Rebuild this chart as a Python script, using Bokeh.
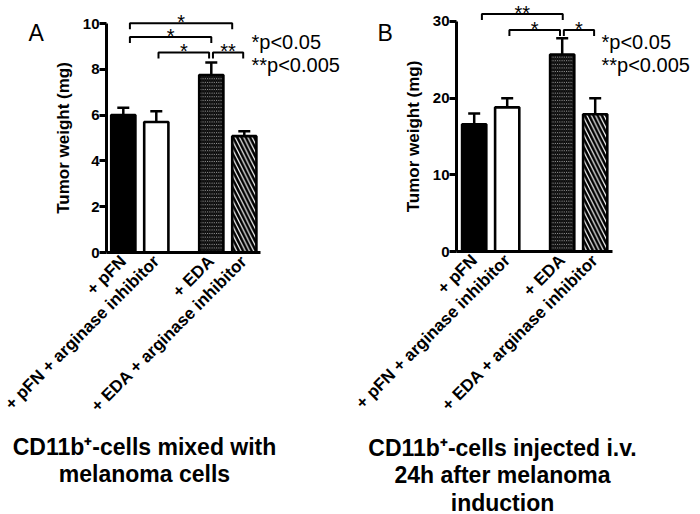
import math
from bokeh.plotting import figure
from bokeh.layouts import row
from bokeh.models import Range1d, FixedTicker, Label, ColumnDataSource
from bokeh.embed import file_html
from bokeh.resources import INLINE

# ---------------- data ----------------
categories = ["+ pFN", "+ pFN + arginase inhibitor", "+ EDA", "+ EDA + arginase inhibitor"]
groups = [0, 0, 1, 1]

a_means = [6.0, 5.7, 7.75, 5.08]
a_errs = [0.32, 0.47, 0.55, 0.22]
a_yticks = [0, 2, 4, 6, 8, 10]
a_sig = [(0, 3, "*"), (0, 2, "*"), (1, 2, "*"), (2, 3, "**")]
a_title = ["CD11b\u207a-cells mixed with", "melanoma cells"]

b_means = [16.6, 18.8, 25.7, 17.9]
b_errs = [1.4, 1.2, 2.1, 2.1]
b_yticks = [0, 10, 20, 30]
b_sig = [(0, 2, "**"), (1, 2, "*"), (2, 3, "*")]
b_title = ["CD11b\u207a-cells injected i.v.", "24h after melanoma", "induction"]

pvalue_lines = ["*p<0.05", "**p<0.005"]

# ---------------- style ----------------
FONT = "Liberation Sans"
STEP, GAP = 3, 2
PXX = 11.0
fills = ["black", "white", "white", "white"]
hatches = [" ", " ", "\\", "\\"]
hscales = [8, 8, 3.6, 8.5]
hweights = [1, 1, 1.5, 2.6]

xpos = [i * STEP + g * GAP for i, g in enumerate(groups)]

FIG_W, FIG_H = 350, 514


def make_panel(letter, means, errs, yticks, sig, sig_geom, title_lines, cfg):
    FL, FB, c0, pxy, ytop_ax, S0 = (cfg[k] for k in ("FL", "FB", "c0", "pxy", "ytop", "S0"))

    def X(sx):
        return (sx - c0) / PXX

    def Y(sy):
        return (FB - sy) / pxy

    p = figure(width=FIG_W, height=FIG_H, output_backend="svg", toolbar_location=None,
               x_range=Range1d(X(S0), X(S0 + FIG_W)), y_range=Range1d(Y(FIG_H), Y(0)),
               min_border=0)
    p.outline_line_color = None
    p.grid.visible = False
    p.background_fill_color = "white"
    p.border_fill_color = "white"

    etop = [m + e for m, e in zip(means, errs)]
    src = ColumnDataSource(dict(x=xpos, top=means, fill=fills, hatch=hatches,
                                hs=hscales, hw=hweights, etop=etop))
    p.segment(x0="x", y0="top", x1="x", y1="etop", source=src, line_color="black", line_width=2.5)
    p.vbar(x="x", top="top", bottom=0, width=2.2, source=src, fill_color="fill",
           line_color="black", line_width=2.6, hatch_pattern="hatch", hatch_scale="hs",
           hatch_weight="hw", hatch_color="black")
    cap = 6 / PXX
    src_c = ColumnDataSource(dict(xa=[x - cap for x in xpos], xb=[x + cap for x in xpos], etop=etop))
    p.segment(x0="xa", y0="etop", x1="xb", y1="etop", source=src_c, line_color="black", line_width=2.5)

    # significance brackets
    drop = 6 / pxy
    xs, ys = [], []
    for (i, j, lab), (dl, dr, sy) in zip(sig, sig_geom):
        xl, xr, yb = xpos[i] + dl, xpos[j] + dr, Y(sy)
        xs.append([xl, xl, xr, xr])
        ys.append([yb - drop, yb, yb, yb - drop])
        p.add_layout(Label(x=(xl + xr) / 2, y=yb + 1.5 / pxy, text=lab, text_align="center",
                           text_baseline="alphabetic", text_font=FONT, text_font_size="20px",
                           text_color="black"))
    p.multi_line(xs, ys, line_color="black", line_width=2)

    # axes
    ya = p.yaxis[0]
    ya.fixed_location = X(FL)
    ya.ticker = FixedTicker(ticks=yticks)
    ya.bounds = (0, ytop_ax)
    ya.axis_label = "Tumor weight (mg)"
    ya.axis_label_text_font = FONT
    ya.axis_label_text_font_style = "bold"
    ya.axis_label_text_font_size = "17px"
    ya.axis_label_text_color = "black"
    ya.axis_label_standoff = 7
    ya.major_label_text_font = FONT
    ya.major_label_text_font_style = "bold"
    ya.major_label_text_font_size = "15px"
    ya.major_label_text_color = "black"
    ya.major_label_standoff = 0
    ya.axis_line_width = 3
    ya.major_tick_line_width = 3
    ya.major_tick_out = 7
    ya.major_tick_in = 0
    ya.minor_tick_line_color = None

    xa = p.xaxis[0]
    xa.fixed_location = 0
    xa.ticker = FixedTicker(ticks=xpos)
    xa.major_label_overrides = {x: c for x, c in zip(xpos, categories)}
    xa.major_label_orientation = math.pi / 4
    xa.major_label_text_font = FONT
    xa.major_label_text_font_style = "bold"
    xa.major_label_text_font_size = "17px"
    xa.major_label_text_color = "black"
    xa.major_label_standoff = 0
    xa.bounds = (X(FL), X(cfg["xend"]))
    xa.axis_line_width = 3
    xa.major_tick_line_color = None
    xa.minor_tick_line_color = None

    # panel letter
    p.add_layout(Label(x=X(cfg["lx"]), y=Y(32.5), text=letter, text_align="left",
                       text_baseline="middle", text_font=FONT, text_font_size="23px",
                       text_color="black"))
    # p-value legend
    for k, t in enumerate(pvalue_lines):
        p.add_layout(Label(x=X(cfg["px"]), y=Y(41.5 + 23 * k), text=t, text_align="left",
                           text_baseline="middle", text_font=FONT, text_font_size="20px",
                           text_color="black"))
    # title lines
    for k, t in enumerate(title_lines):
        p.add_layout(Label(x=X(cfg["tx"]), y=Y(cfg["ty"] + cfg["tdy"] * k), text=t, text_align="center",
                           text_baseline="middle", text_font=FONT, text_font_style="bold",
                           text_font_size="23px", text_color="black"))
    return p


cfg_a = dict(FL=106, FB=252, c0=122.8, pxy=22.9, ytop=10, S0=0,
             xend=260, lx=28, px=251, tx=144, ty=446, tdy=27)
cfg_b = dict(FL=456, FB=251, c0=473.7, pxy=7.667, ytop=30, S0=350,
             xend=612, lx=377, px=601, tx=502, ty=447, tdy=27.5)

a_geom = [(0.6, -1.1, 22.7), (0.6, -0.0, 36.5), (0.2, -0.2, 52), (0.15, -0.1, 52)]
b_geom = [(0.7, 0.05, 13.5), (0.2, -0.2, 29.5), (0.15, -0.1, 29.5)]

pa = make_panel("A", a_means, a_errs, a_yticks, a_sig, a_geom, a_title, cfg_a)
pb = make_panel("B", b_means, b_errs, b_yticks, b_sig, b_geom, b_title, cfg_b)

layout = row(pa, pb, spacing=0)
open("out.html", "w").write(file_html(layout, INLINE))
